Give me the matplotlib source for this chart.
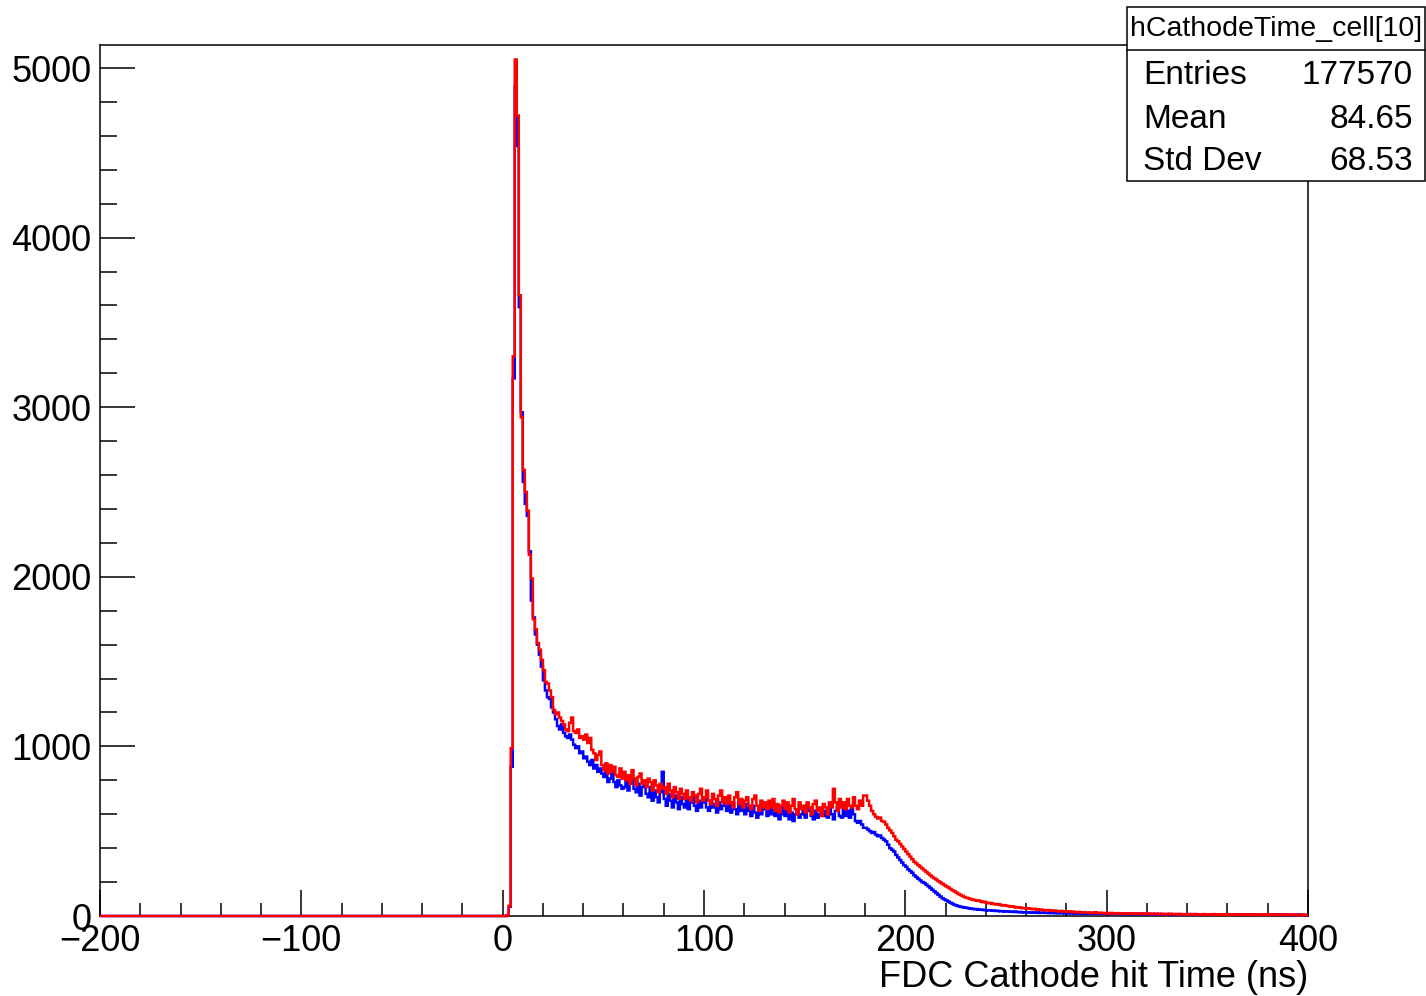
import numpy as np
import matplotlib
matplotlib.use("Agg")
import matplotlib.pyplot as plt
from matplotlib.patches import Rectangle
from matplotlib.lines import Line2D
from matplotlib.ticker import MultipleLocator

plt.rcParams['font.family'] = ['Liberation Sans', 'DejaVu Sans']

# ---------------- data ----------------
x_min, x_max = -200, 400
bin_width = 1
n_empty_bins = 200          # bins from -200 ns to 0 ns are empty

# red histogram, bins [t, t+1) for t = 0 .. 399 ns
red_counts = [
    0, 0, 5, 60, 990, 3300, 5050, 4720, 3660, 2940,
    2630, 2500, 2390, 2130, 1990, 1750, 1690, 1610, 1570, 1510,
    1450, 1380, 1370, 1330, 1290, 1215, 1190, 1200, 1170, 1150,
    1130, 1100, 1090, 1140, 1170, 1090, 1080, 1100, 1050, 1060,
    1040, 1070, 1020, 1050, 980, 960, 920, 950, 970, 890,
    860, 900, 840, 890, 850, 880, 830, 820, 870, 810,
    850, 800, 830, 780, 860, 810, 770, 820, 840, 780,
    800, 760, 810, 790, 740, 800, 770, 730, 780, 750,
    760, 720, 780, 740, 700, 760, 730, 690, 750, 720,
    690, 740, 700, 680, 730, 710, 670, 720, 750, 680,
    700, 740, 680, 660, 720, 690, 650, 710, 740, 670,
    700, 660, 710, 670, 640, 700, 730, 660, 690, 640,
    680, 700, 650, 630, 690, 710, 650, 620, 680, 640,
    670, 630, 680, 640, 690, 620, 660, 610, 650, 680,
    630, 670, 610, 650, 690, 630, 600, 670, 630, 650,
    610, 670, 640, 600, 660, 680, 620, 640, 590, 660,
    640, 600, 670, 640, 750, 670, 620, 690, 640, 670,
    630, 690, 650, 640, 700, 650, 630, 680, 650, 710,
    710, 680, 650, 620, 600, 585, 575, 580, 560, 555,
    540, 520, 505, 490, 470, 450, 440, 425, 410, 395,
    380, 365, 350, 335, 320, 310, 300, 290, 280, 270,
    260, 250, 240, 230, 222, 215, 205, 198, 190, 182,
    175, 168, 160, 152, 145, 138, 130, 124, 118, 112,
    108, 104, 100, 97, 94, 90, 92, 86, 82, 84,
    78, 75, 77, 72, 70, 68, 70, 65, 62, 64,
    60, 58, 55, 57, 52, 50, 52, 48, 46, 47,
    45, 44, 42, 40, 42, 38, 36, 38, 35, 34,
    33, 35, 31, 30, 32, 29, 28, 30, 27, 26,
    28, 25, 24, 26, 23, 22, 24, 21, 22, 20,
    21, 19, 20, 18, 22, 17, 19, 18, 16, 18,
    17, 15, 18, 16, 14, 17, 15, 16, 13, 15,
    14, 16, 13, 15, 12, 14, 13, 15, 12, 13,
    14, 11, 13, 12, 14, 11, 12, 13, 10, 12,
    11, 13, 10, 12, 11, 9, 12, 10, 11, 9,
    10, 12, 9, 11, 10, 8, 10, 9, 11, 8,
    9, 10, 8, 11, 9, 8, 10, 7, 9, 8,
    10, 8, 9, 7, 9, 8, 10, 7, 8, 9,
    7, 9, 8, 6, 8, 9, 7, 8, 6, 9,
    8, 7, 9, 6, 8, 7, 6, 8, 7, 9,
    7, 6, 8, 7, 5, 7, 6, 8, 5, 6,
]

# blue histogram, bins [t, t+1) for t = 0 .. 399 ns
blue_counts = [
    0, 0, 4, 55, 880, 3170, 4890, 4540, 3590, 2970,
    2560, 2430, 2360, 2150, 1860, 1760, 1660, 1600, 1540, 1470,
    1390, 1330, 1290, 1280, 1230, 1200, 1160, 1120, 1100, 1130,
    1080, 1060, 1050, 1070, 1040, 1010, 990, 1000, 960, 970,
    930, 940, 910, 890, 920, 870, 890, 850, 870, 840,
    820, 860, 790, 810, 840, 790, 760, 800, 770, 750,
    760, 800, 740, 790, 810, 750, 730, 780, 710, 760,
    770, 720, 700, 760, 680, 740, 700, 670, 730, 850,
    690, 650, 720, 680, 640, 710, 670, 630, 700, 660,
    640, 690, 630, 670, 700, 650, 620, 680, 640, 670,
    690, 640, 620, 680, 640, 660, 610, 670, 630, 650,
    670, 620, 660, 610, 670, 630, 600, 660, 620, 640,
    600, 660, 620, 590, 650, 610, 580, 640, 600, 630,
    640, 590, 630, 600, 650, 590, 620, 570, 600, 640,
    590, 630, 570, 610, 560, 600, 630, 580, 600, 620,
    580, 620, 630, 590, 570, 620, 580, 600, 630, 590,
    620, 580, 630, 600, 570, 620, 640, 590, 580, 630,
    590, 620, 580, 630, 600, 560, 550, 560, 540, 520,
    520, 510, 500, 490, 495, 480, 470, 475, 460, 450,
    440, 420, 400, 390, 380, 360, 345, 330, 315, 300,
    290, 275, 265, 255, 240, 230, 220, 210, 200, 195,
    185, 175, 165, 155, 145, 135, 125, 115, 105, 98,
    92, 85, 78, 72, 66, 62, 58, 55, 52, 50,
    48, 46, 44, 42, 40, 41, 38, 37, 36, 35,
    34, 33, 34, 31, 30, 31, 29, 28, 29, 27,
    26, 27, 25, 24, 26, 23, 24, 22, 23, 21,
    22, 20, 21, 19, 20, 21, 18, 19, 20, 18,
    19, 17, 18, 19, 16, 18, 17, 16, 18, 15,
    17, 16, 15, 17, 14, 16, 15, 14, 16, 13,
    15, 14, 16, 13, 14, 15, 12, 14, 13, 15,
    13, 12, 14, 13, 11, 13, 12, 14, 11, 12,
    13, 11, 12, 10, 12, 11, 13, 10, 12, 11,
    10, 12, 11, 9, 11, 10, 12, 9, 10, 11,
    9, 11, 10, 8, 10, 11, 9, 10, 8, 10,
    9, 8, 10, 9, 11, 8, 9, 10, 8, 9,
    10, 8, 9, 7, 9, 8, 10, 8, 7, 9,
    8, 9, 7, 8, 10, 7, 8, 9, 7, 8,
    9, 7, 8, 6, 8, 9, 7, 8, 7, 6,
    8, 7, 6, 8, 7, 9, 6, 7, 8, 6,
    7, 6, 7, 5, 8, 6, 7, 5, 6, 5,
]

x_ticks = [-200, -100, 0, 100, 200, 300, 400]
y_ticks = [0, 1000, 2000, 3000, 4000, 5000]
x_label = "FDC Cathode hit Time (ns)"
stats_title = "hCathodeTime_cell[10]"
stats_labels = ["Entries", "Mean", "Std Dev"]
stats_values = ["177570", "84.65", "68.53"]

# ---------------- figure ----------------
W, H = 1426, 996
fig = plt.figure(figsize=(W / 100, H / 100), dpi=100)
fig.patch.set_facecolor('white')

ax_left, ax_right, ax_top, ax_bottom = 100, 1308, 45, 916
ax = fig.add_axes([ax_left / W, 1 - ax_bottom / H,
                   (ax_right - ax_left) / W, (ax_bottom - ax_top) / H])

edges = np.arange(x_min, x_max + bin_width, bin_width)
blue = np.array([0] * n_empty_bins + blue_counts, dtype=float)
red = np.array([0] * n_empty_bins + red_counts, dtype=float)

ax.stairs(blue, edges, baseline=None, color='#0000ff', lw=1.8,
          zorder=3, clip_on=False)
ax.stairs(red, edges, baseline=None, color='#ff0000', lw=1.8,
          zorder=4, clip_on=False)

ax.set_xlim(x_min, x_max)
# 5000 sits at pixel row 68 while the frame spans rows 45..916
ax.set_ylim(0, 5000 * (ax_bottom - ax_top) / (ax_bottom - 68))

ax.set_xticks(x_ticks)
ax.set_xticklabels([f"{v:d}".replace('-', '\u2212') for v in x_ticks])
ax.set_yticks(y_ticks)
ax.set_yticklabels([str(v) for v in y_ticks])
ax.xaxis.set_minor_locator(MultipleLocator(20))
ax.yaxis.set_minor_locator(MultipleLocator(200))

for sp in ax.spines.values():
    sp.set_linewidth(1.1)
    sp.set_color('black')

ax.tick_params(axis='both', which='both', direction='in', width=1.1,
               top=False, right=False, colors='black')
ax.tick_params(axis='x', which='major', length=19, labelsize=26, pad=6)
ax.tick_params(axis='x', which='minor', length=9.5)
ax.tick_params(axis='y', which='major', length=25, labelsize=26, pad=6)
ax.tick_params(axis='y', which='minor', length=12.5)

ax.set_xlabel(x_label, fontsize=26, loc='right')
ax.xaxis.set_label_coords(1.0, (ax_bottom - 977) / (ax_bottom - ax_top))
ax.xaxis.label.set_va('center')

# ---------------- stats box ----------------
bx0, bx1, by0, by1, bsep = 1127, 1425, 7, 181, 50
box = Rectangle((bx0 / W, 1 - by1 / H), (bx1 - bx0) / W, (by1 - by0) / H,
                transform=fig.transFigure, facecolor='white',
                edgecolor='black', lw=1.1, zorder=10)
fig.add_artist(box)
fig.add_artist(Line2D([bx0 / W, bx1 / W], [1 - bsep / H, 1 - bsep / H],
                      transform=fig.transFigure, color='black', lw=1.1,
                      zorder=11))
fig.text((bx0 + bx1) / 2 / W, 1 - 29 / H, stats_title, ha='center',
         va='center', fontsize=20.5, zorder=12)
row_y = [75, 119, 161]
for lab, val, yy in zip(stats_labels, stats_values, row_y):
    fig.text(1143 / W, 1 - yy / H, lab, ha='left', va='center',
             fontsize=24, zorder=12)
    fig.text(1413 / W, 1 - yy / H, val, ha='right', va='center',
             fontsize=24, zorder=12)

fig.savefig("out.png", dpi=100)
